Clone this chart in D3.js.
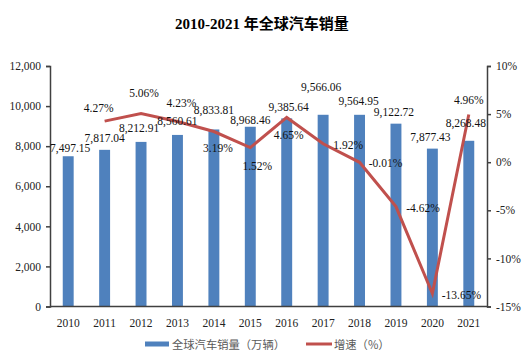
<!DOCTYPE html>
<html>
<head>
<meta charset="utf-8">
<script src="https://cdn.jsdelivr.net/npm/d3@7"></script>
<style>
  html, body { margin: 0; padding: 0; background: #fff; }
  svg { display: block; }
</style>
</head>
<body>
<svg id="chart" width="524" height="360"></svg>
<script>
// ---- data ----
const years = ["2010","2011","2012","2013","2014","2015","2016","2017","2018","2019","2020","2021"];
const sales = [7497.15, 7817.04, 8212.91, 8560.61, 8833.81, 8968.46, 9385.64, 9566.06, 9564.95, 9122.72, 7877.43, 8268.48];
const growthYears = ["2011","2012","2013","2014","2015","2016","2017","2018","2019","2020","2021"];
const growth = [4.27, 5.06, 4.23, 3.19, 1.52, 4.65, 1.92, -0.01, -4.62, -13.65, 4.96];
const leftTicks = [0, 2000, 4000, 6000, 8000, 10000, 12000];
const rightTicks = [-15, -10, -5, 0, 5, 10];
const title = "2010-2021 年全球汽车销量";
const legendLabels = ["全球汽车销量（万辆）", "增速（%）"];

// ---- label nudges (layout) ----
const barLabelNudgeX = [2, 0, -2, 0, 0, 0, 2, -2, -1, -2, -2, -3];
const barLabelNudgeY = [-4, -8, -10, -10, -15, -3, -7, -24, -10, -8, -8, -14];
const lineLabelNudgeX = [-6, 3, 4, 4, 7, 2, 25, 26, 27, 29, 0];
const lineLabelNudgeY = [-9, -17, -15, 20, 22, 22, 5, 5, 5, 5, -10];

const svg = d3.select("#chart");
const serif = "'Liberation Serif', 'Times New Roman', serif";
const cjk = "'Noto Sans CJK SC', sans-serif";
const pLeft = 50, pRight = 487, pTop = 66, pBottom = 306.5;

const x = d3.scaleBand().domain(years).range([pLeft, pRight]).paddingInner(0.7).paddingOuter(0.35);
const yL = d3.scaleLinear().domain([0, 12000]).range([pBottom, pTop]);
const yR = d3.scaleLinear().domain([-15, 10]).range([pBottom, pTop]);
const cx = d => x(d) + x.bandwidth() / 2;

// title
const t = svg.append("text").attr("x", 262).attr("y", 29).attr("text-anchor", "middle")
  .attr("font-size", 15).attr("font-weight", "bold").attr("fill", "#000");
t.append("tspan").attr("font-family", serif).text(title.split(" ")[0] + " ");
t.append("tspan").attr("font-family", cjk).text(title.split(" ")[1]);

// bars
svg.append("g").selectAll("rect").data(sales).join("rect")
  .attr("x", (d, i) => x(years[i]))
  .attr("y", d => yL(d))
  .attr("width", x.bandwidth())
  .attr("height", d => pBottom - yL(d))
  .attr("fill", "#4F81BD");

// axes
const axisColor = "#404040";
const gL = svg.append("g").attr("transform", `translate(${pLeft},0)`)
  .call(d3.axisLeft(yL).tickValues(leftTicks).tickSizeOuter(0).tickSize(4).tickFormat(d3.format(",")));
const gR = svg.append("g").attr("transform", `translate(${pRight},0)`)
  .call(d3.axisRight(yR).tickValues(rightTicks).tickSizeOuter(0).tickSize(4).tickFormat(d => d + "%"));
const gB = svg.append("g").attr("transform", `translate(0,${pBottom})`)
  .call(d3.axisBottom(x).tickSize(0).tickSizeOuter(0));
[gL, gR, gB].forEach(g => {
  g.selectAll("path").attr("stroke", axisColor).attr("stroke-width", 1.5);
  g.selectAll("line").attr("stroke", axisColor).attr("stroke-width", 1.5);
  g.selectAll("text").attr("font-family", serif).attr("font-size", 11.5).attr("fill", "#222");
});
gL.selectAll("text").attr("x", -9);
gR.selectAll("text").attr("x", 9);
gB.selectAll("text").attr("dy", "1.55em");
gB.select("path").attr("d", `M${pLeft},0H${pRight}`);

// line
const line = d3.line().x((d, i) => cx(growthYears[i])).y(d => yR(d));
svg.append("path").datum(growth).attr("d", line)
  .attr("fill", "none").attr("stroke", "#C0504D").attr("stroke-width", 3).attr("stroke-linejoin", "miter");

// bar labels
svg.append("g").selectAll("text").data(sales).join("text")
  .attr("x", (d, i) => cx(years[i]) + barLabelNudgeX[i])
  .attr("y", (d, i) => yL(d) + barLabelNudgeY[i])
  .attr("text-anchor", "middle").attr("font-family", serif).attr("font-size", 11.5).attr("fill", "#111")
  .text(d => d3.format(",.2f")(d));

// line labels
svg.append("g").selectAll("text").data(growth).join("text")
  .attr("x", (d, i) => cx(growthYears[i]) + lineLabelNudgeX[i])
  .attr("y", (d, i) => yR(d) + lineLabelNudgeY[i])
  .attr("text-anchor", "middle").attr("font-family", serif).attr("font-size", 11.5).attr("fill", "#111")
  .text(d => d.toFixed(2) + "%");

// legend
const lg = svg.append("g");
lg.append("rect").attr("x", 145).attr("y", 341.5).attr("width", 24).attr("height", 5).attr("fill", "#4F81BD");
lg.append("text").attr("x", 172).attr("y", 348.5).attr("font-family", cjk).attr("font-size", 11.3).attr("fill", "#595959").text(legendLabels[0]);
lg.append("line").attr("x1", 306).attr("x2", 332).attr("y1", 344).attr("y2", 344).attr("stroke", "#C0504D").attr("stroke-width", 3);
lg.append("text").attr("x", 334).attr("y", 348.5).attr("font-family", cjk).attr("font-size", 11.3).attr("fill", "#595959").text(legendLabels[1]);
</script>
</body>
</html>
